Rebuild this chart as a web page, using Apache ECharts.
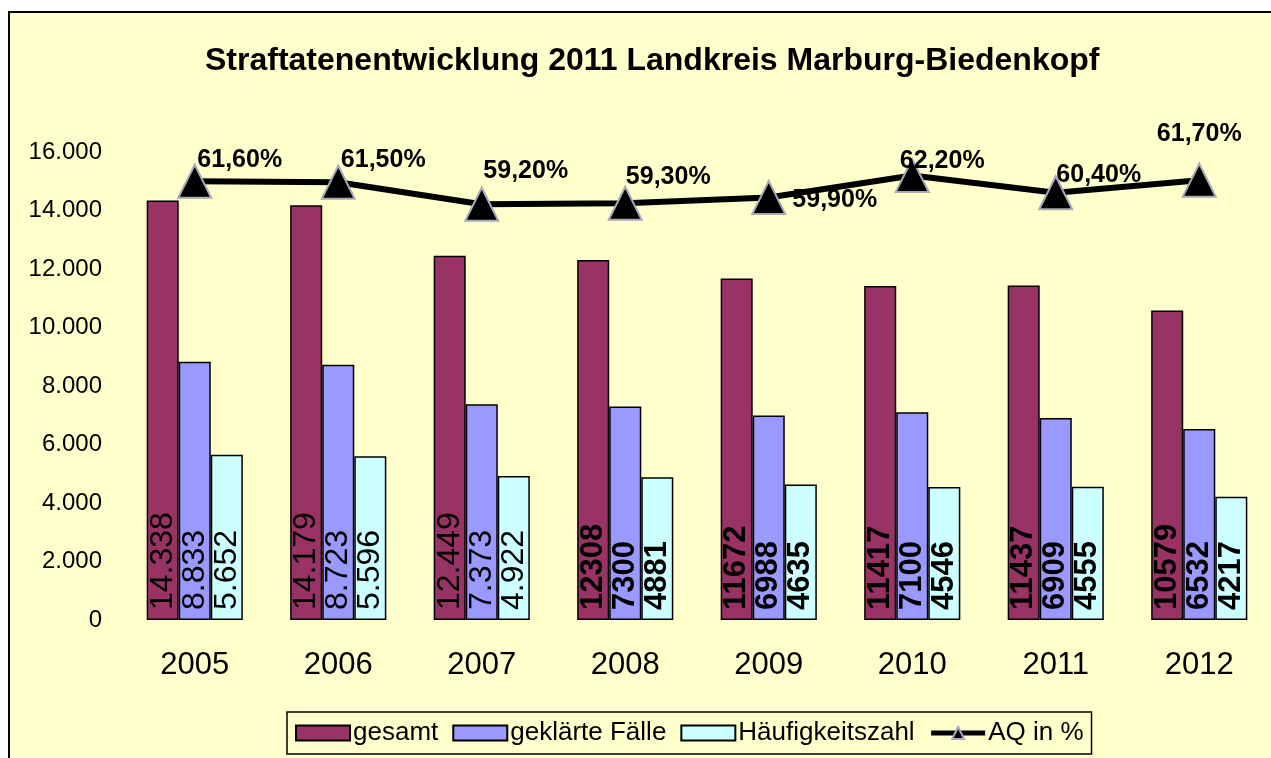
<!DOCTYPE html>
<html>
<head>
<meta charset="utf-8">
<script src="https://cdn.jsdelivr.net/npm/echarts@6/dist/echarts.min.js"></script>
<style>
html,body{margin:0;padding:0;background:#fff;}
#chart{width:1271px;height:758px;}
</style>
</head>
<body>
<div id="chart"></div>
<script>
// ---- data ----
var years = ['2005','2006','2007','2008','2009','2010','2011','2012'];
var gesamt = [14338, 14179, 12449, 12308, 11672, 11417, 11437, 10579];
var geklaert = [8833, 8723, 7373, 7300, 6988, 7100, 6909, 6532];
var haeufigkeit = [5652, 5596, 4922, 4881, 4635, 4546, 4555, 4217];
var aqPercent = [61.6, 61.5, 59.2, 59.3, 59.9, 62.2, 60.4, 61.7];
var yTicks = [0, 2000, 4000, 6000, 8000, 10000, 12000, 14000, 16000];
// label text uses thousands separator in the first years only
var dottedLabel = [true, true, true, false, false, false, false, false];

// ---- styles (kept separate from data) ----
var FONT = "'Liberation Sans', Arial, sans-serif";
var aqLabelOffset = [[45,-21],[45,-22],[44,-33],[43,-26],[66,3],[30,-14],[43,-18],[0,-46]];

function fmtThousands(v){
  return String(v).replace(/\B(?=(\d{3})+(?!\d))/g, '.');
}

function barData(arr){
  return arr.map(function(v, i){
    var dotted = dottedLabel[i];
    return {
      value: v,
      label: dotted
        ? {fontWeight: 'normal', fontSize: 32}
        : {fontWeight: 'bold', fontSize: 31}
    };
  });
}

function barLabelFormatter(p){
  return dottedLabel[p.dataIndex] ? fmtThousands(p.value) : String(p.value);
}

var barLabel = {
  show: true,
  position: 'insideBottom',
  rotate: 90,
  align: 'left',
  verticalAlign: 'middle',
  distance: 10,
  color: '#000',
  fontFamily: FONT,
  formatter: barLabelFormatter
};

function barSeries(name, arr, color){
  return {
    name: name,
    type: 'bar',
    data: barData(arr),
    barGap: '0%',
    barCategoryGap: '33%',
    itemStyle: {color: color, borderColor: '#000', borderWidth: 1.5},
    label: barLabel,
    emphasis: {disabled: true}
  };
}

var chart = echarts.init(document.getElementById('chart'), null, {renderer: 'canvas'});
chart.setOption({
  animation: false,
  backgroundColor: '#ffffff',
  textStyle: {fontFamily: FONT},
  graphic: [{
    type: 'rect',
    z: -10,
    shape: {x: 9, y: 12, width: 1300, height: 800},
    style: {fill: '#FFFFCC', stroke: '#000', lineWidth: 2}
  }],
  title: {
    text: 'Straftatenentwicklung 2011 Landkreis Marburg-Biedenkopf',
    left: 200,
    top: 40,
    textStyle: {fontFamily: FONT, fontWeight: 'bold', fontSize: 32, color: '#000'}
  },
  legend: {
    left: 287,
    top: 712,
    padding: [8, 8, 8, 8],
    itemWidth: 54,
    itemHeight: 15,
    itemGap: 14,
    borderColor: '#000',
    borderWidth: 1.5,
    textStyle: {fontFamily: FONT, fontSize: 26, color: '#000', padding: [0,0,0,-2]},
    data: [
      {name: 'gesamt', icon: 'rect'},
      {name: 'geklärte Fälle', icon: 'rect'},
      {name: 'Häufigkeitszahl', icon: 'rect'},
      {name: 'AQ in %', lineStyle: {width: 5}}
    ]
  },
  grid: {left: 123, right: -6, top: 152, bottom: 138, containLabel: false},
  xAxis: {
    type: 'category',
    data: years,
    axisLine: {show: false},
    axisTick: {show: false},
    axisLabel: {fontFamily: FONT, fontSize: 31, color: '#000', margin: 30}
  },
  yAxis: [{
    type: 'value',
    min: yTicks[0],
    max: yTicks[yTicks.length - 1],
    interval: yTicks[1] - yTicks[0],
    axisLine: {show: false},
    axisTick: {show: false},
    splitLine: {show: false},
    axisLabel: {fontFamily: FONT, fontSize: 24, color: '#000', margin: 21,
      formatter: function(v){ return fmtThousands(v); }}
  }, {
    type: 'value',
    show: false,
    min: 15.8,
    max: 64.65,
    splitLine: {show: false}
  }],
  series: [
    barSeries('gesamt', gesamt, '#993366'),
    barSeries('geklärte Fälle', geklaert, '#9999FF'),
    barSeries('Häufigkeitszahl', haeufigkeit, '#CCFFFF'),
    {
      name: 'AQ in %',
      type: 'line',
      yAxisIndex: 1,
      z: 5,
      data: aqPercent.map(function(v, i){
        return {value: v, label: {offset: aqLabelOffset[i]}};
      }),
      symbol: 'triangle',
      symbolSize: 33,
      lineStyle: {color: '#000', width: 6},
      itemStyle: {color: '#000', borderColor: '#A8A8B8', borderWidth: 2},
      label: {
        show: true,
        position: 'inside',
        color: '#000',
        fontFamily: FONT,
        fontWeight: 'bold',
        fontSize: 25,
        formatter: function(p){ return p.value.toFixed(2).replace('.', ',') + '%'; }
      },
      emphasis: {disabled: true}
    }
  ]
});
</script>
</body>
</html>
